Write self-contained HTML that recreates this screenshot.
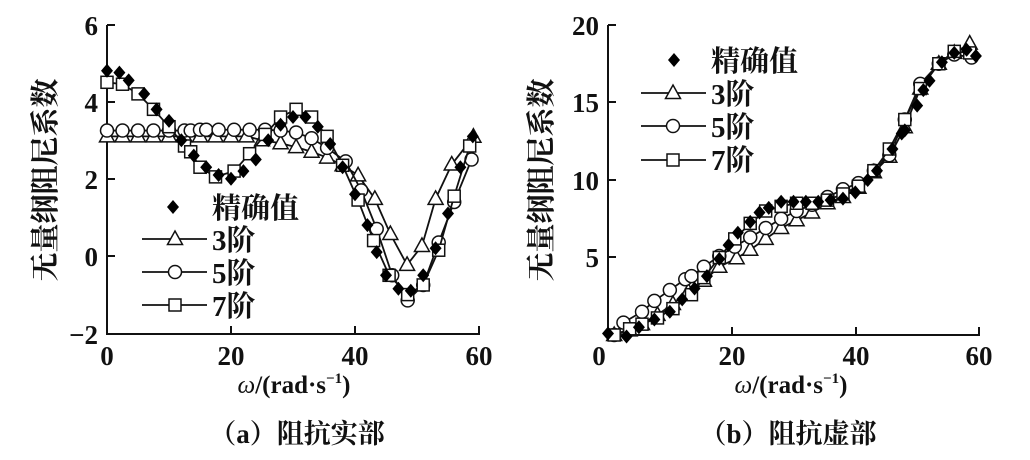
<!DOCTYPE html>
<html><head><meta charset="utf-8"><style>
html,body{margin:0;padding:0;background:#fff;}
svg text{font-family:"Liberation Serif","Noto Serif CJK SC",serif;font-weight:bold;fill:#111;}
</style></head><body>
<svg id="s" width="1030" height="455" viewBox="0 0 1030 455" xmlns="http://www.w3.org/2000/svg">
<g stroke="#111" stroke-width="2" fill="none">
<path d="M107,25 V334 H479 V326"/>
<path d="M107,25 h8 M107,102 h8 M107,179 h8 M107,256 h8 M107,334 h8 M231,334 v-8 M355,334 v-8"/>
<path d="M608,25 V335 H979 V327"/>
<path d="M608,25 h8 M608,102 h8 M608,180 h8 M608,257 h8 M732,335 v-8 M856,335 v-8"/>
</g>
<g font-size="27" text-anchor="end">
<text x="98" y="35">6</text><text x="98" y="112">4</text><text x="98" y="189">2</text><text x="98" y="266">0</text><text x="98" y="344">−2</text>
<text x="599" y="35">20</text><text x="599" y="112">15</text><text x="599" y="190">10</text><text x="599" y="267">5</text>
</g>
<g font-size="27" text-anchor="middle">
<text x="107" y="365">0</text><text x="231" y="365">20</text><text x="355" y="365">40</text><text x="479" y="365">60</text>
<text x="599" y="365">0</text><text x="732" y="365">20</text><text x="856" y="365">40</text><text x="979" y="365">60</text>
</g>
<g font-size="25" text-anchor="middle">
<text x="294" y="393"><tspan font-style="italic" font-weight="normal">ω</tspan>/(rad·s<tspan font-size="15" dy="-10">−1</tspan><tspan dy="10">)</tspan></text>
<text x="791" y="393"><tspan font-style="italic" font-weight="normal">ω</tspan>/(rad·s<tspan font-size="15" dy="-10">−1</tspan><tspan dy="10">)</tspan></text>
<text x="297" y="443" font-size="27">（a）阻抗实部</text>
<text x="788" y="443" font-size="27">（b）阻抗虚部</text>
</g>
<g font-size="29" text-anchor="middle">
<text transform="translate(55,180) rotate(-90)">无量纲阻尼系数</text>
<text transform="translate(551,180) rotate(-90)">无量纲阻尼系数</text>
</g>
<g font-size="29">
<text x="212" y="218">精确值</text>
<text x="212" y="250">3阶</text><text x="212" y="283">5阶</text><text x="212" y="316">7阶</text>
<text x="711" y="71">精确值</text>
<text x="711" y="104">3阶</text><text x="711" y="137">5阶</text><text x="711" y="170">7阶</text>
</g>
<g id="m"></g>
</svg>
<script>
var NS="http://www.w3.org/2000/svg",g=document.getElementById("m");
function el(t,a){var e=document.createElementNS(NS,t);for(var k in a)e.setAttribute(k,a[k]);g.appendChild(e);return e;}
function mk(type,x,y){
 var st={stroke:"#111","stroke-width":1.5,fill:"#fff"};
 if(type=="d"){el("polygon",{points:(x)+","+(y-7)+" "+(x+6)+","+y+" "+x+","+(y+7)+" "+(x-6)+","+y,fill:"#000"});}
 else if(type=="t"){st.points=x+","+(y-8)+" "+(x+7.5)+","+(y+5.5)+" "+(x-7.5)+","+(y+5.5);el("polygon",st);}
 else if(type=="c"){st.cx=x;st.cy=y;st.r=6.5;el("circle",st);}
 else {st.x=x-6;st.y=y-6;st.width=12;st.height=12;el("rect",st);}
}
function series(pts,tx,ty,type,line){
 var p=pts.map(function(q){return [tx(q[0]),ty(q[1])];});
 if(line)el("polyline",{points:p.map(function(q){return q.join(",")}).join(" "),fill:"none",stroke:"#111","stroke-width":1.8});
 p.forEach(function(q){mk(type,q[0],q[1]);});
}
var ax=function(x){return 107+x*372/60},ay=function(y){return 256-y*38.6};
var bx=function(x){return 608+x*371/60},by=function(y){return 335-y*15.5};
series([[0,3.1],[2.5,3.1],[5,3.1],[7.5,3.1],[10,3.1],[12.5,3.1],[15,3.1],[17.5,3.1],[20,3.1],[22.5,3.1],[25,3.0],[28,2.92],[30.5,2.82],[33,2.7],[35.5,2.55],[38,2.35],[40.5,2.09],[43.2,1.48],[45.7,0.57],[48.4,-0.23],[50.8,0.26],[53,1.48],[55.6,2.37],[59.1,3.09]],ax,ay,"t",true);
series([[0,3.25],[2.5,3.25],[5,3.25],[7.5,3.25],[10,3.25],[12.5,3.25],[13.5,3.25],[15,3.27],[16,3.27],[18,3.27],[20.5,3.27],[23,3.27],[25.5,3.27],[28,3.25],[30.5,3.2],[33,3.05],[35.5,2.8],[38.5,2.45],[41,1.7],[43.5,0.7],[46,-0.5],[48.5,-1.15],[51,-0.75],[53.5,0.35],[56,1.4],[58.8,2.5]],ax,ay,"c",true);
series([[0,4.5],[2.5,4.45],[5,4.2],[7.5,3.8],[10,3.35],[12.5,2.85],[13.5,2.7],[15,2.3],[17.5,2.05],[20.5,2.2],[23,2.65],[25.5,3.15],[28,3.6],[30.5,3.8],[33,3.6],[35.5,3.1],[38,2.35],[40.5,1.45],[43,0.4],[45.5,-0.5],[48.5,-1.0],[51,-0.75],[53.5,0.15],[56,1.55],[58.5,2.85]],ax,ay,"s",true);
series([[0,4.8],[2,4.75],[3.5,4.55],[6,4.2],[8,3.8],[10,3.5],[12,3.0],[14,2.6],[16,2.3],[18,2.1],[20,2.0],[22,2.2],[24,2.5],[26,3.0],[28,3.4],[30,3.6],[32,3.6],[34,3.35],[36,2.9],[38,2.3],[40,1.6],[42,0.8],[43.5,0.1],[45,-0.5],[47,-0.85],[49,-0.9],[51,-0.5],[53,0.2],[55,1.1],[57,2.3],[59,3.1]],ax,ay,"d",false);
series([[1,0],[3.5,0.3],[5.5,0.7],[8,1.3],[10.5,2.0],[13,2.8],[15.5,3.5],[18,4.4],[20.8,4.95],[23,5.5],[25.5,6.2],[28,6.9],[30.5,7.4],[33,7.9],[35.5,8.5],[38,8.9],[40.5,9.5],[43,10.5],[45.5,11.5],[48,13.4],[50.5,15.9],[53.5,17.5],[56,18.2],[58.5,18.8]],bx,by,"t",true);
series([[1,0],[2.5,0.8],[5.5,1.5],[7.5,2.2],[10,2.9],[12.5,3.6],[13.5,3.8],[15.5,4.4],[18,5.1],[20.5,5.7],[23,6.3],[25.5,6.9],[28,7.5],[30.5,8],[33,8.4],[35.5,8.9],[38,9.4],[40.5,9.8],[43,10.6],[45.5,11.6],[48,13.9],[50.5,16.2],[53.5,17.5],[56,18.1],[58.8,17.9]],bx,by,"c",true);
series([[1,0],[3.5,0.4],[5.5,0.7],[8,1.1],[10.5,1.7],[13.5,2.6],[15.5,3.7],[18,5],[20.5,6.2],[23,7.2],[25.5,8],[28,8.3],[30.5,8.5],[33,8.5],[35.5,8.7],[38,9.1],[40.5,9.6],[43,10.6],[45.5,12.0],[48,13.9],[50.5,15.9],[53.5,17.5],[56,18.3],[58.5,18.2]],bx,by,"s",true);
series([[0,0.1],[3,-0.1],[5,0.5],[7.5,1.0],[10,1.5],[12,2.3],[14,3.0],[16,3.8],[18,4.9],[19.5,5.8],[21,6.6],[23,7.3],[24.5,7.9],[26,8.2],[28,8.6],[30,8.6],[32,8.6],[34,8.6],[36,8.7],[38,8.8],[40,9.2],[42,10.0],[43.5,10.6],[46,12.0],[47.5,13.0],[48,13.2],[50,14.8],[51,15.8],[52,16.4],[54,17.6],[56,18.2],[58,18.4],[59.5,18.0]],bx,by,"d",false);
[[142,207,239,175],[142,207,272,175],[142,207,305,175]].forEach(function(l,i){el("line",{x1:l[0],x2:l[1],y1:l[2],y2:l[2],stroke:"#111","stroke-width":1.8});mk(["t","c","s"][i],l[3],l[2]);});
mk("d",173,207);
[[641,706,93,673],[641,706,126,673],[641,706,160,673]].forEach(function(l,i){el("line",{x1:l[0],x2:l[1],y1:l[2],y2:l[2],stroke:"#111","stroke-width":1.8});mk(["t","c","s"][i],l[3],l[2]);});
mk("d",674,60);
</script>
</body></html>
